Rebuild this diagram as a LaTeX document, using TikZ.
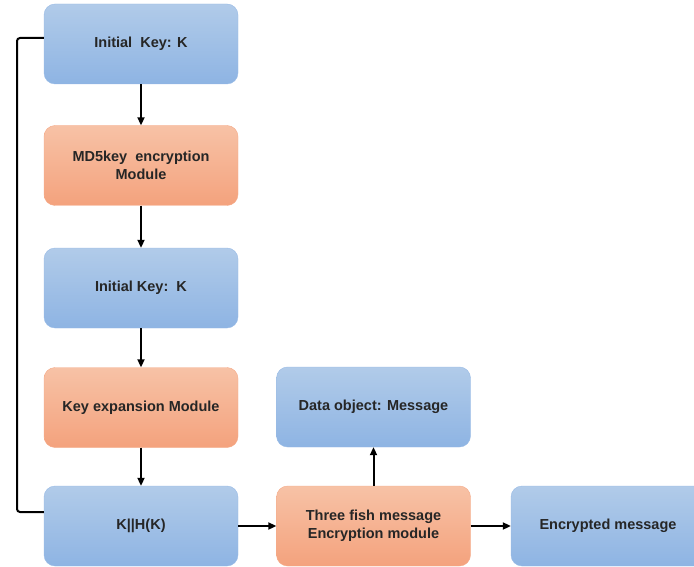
\documentclass[tikz,border=0pt]{standalone}
\usepackage{fontspec}
\setmainfont{Liberation Sans}
\usetikzlibrary{arrows.meta}
\definecolor{bluetop}{HTML}{B1CBE9}
\definecolor{bluebot}{HTML}{8EB4E3}
\definecolor{orgtop}{HTML}{F7C2A6}
\definecolor{orgbot}{HTML}{F4A27D}
\tikzset{
  box/.style={rounded corners=11pt, minimum width=194pt, minimum height=80pt,
    align=center, font=\bfseries\fontsize{14.5}{18}\selectfont, text=black!85, inner sep=0pt},
  bluebox/.style={box, top color=bluetop, bottom color=bluebot, draw=bluebot!90!white, line width=0.4pt},
  orangebox/.style={box, top color=orgtop, bottom color=orgbot, draw=orgbot!90!white, line width=0.4pt},
  link/.style={line width=2pt, -{Triangle[length=8pt,width=7pt]}},
}
\begin{document}
\begin{tikzpicture}[x=1pt,y=-1pt]
  \useasboundingbox (0,0) rectangle (694,567);
  \begin{scope}
  \clip (0,0) rectangle (694,567);
  % left column
  \node[bluebox]   (k1)   at (141,44)    {Initial\ \ Key: K};
  \node[orangebox] (md5)  at (141,165.5) {MD5key\ \ encryption\\Module};
  \node[bluebox]   (k2)   at (141,288)   {Initial Key:\ \ K};
  \node[orangebox] (kexp) at (141,407.5) {Key expansion Module};
  \node[bluebox]   (khk)  at (141,526)   {K||H(K)};
  % bottom row
  \node[orangebox] (tf)   at (373.5,526) {Three fish message\\Encryption module};
  \node[bluebox]   (data) at (373.5,407) {Data object: Message};
  \node[bluebox]   (enc)  at (608,526)   {Encrypted message};
  \end{scope}
  % vertical chain
  \draw[link] (k1) -- (md5);
  \draw[link] (md5) -- (k2);
  \draw[link] (k2) -- (kexp);
  \draw[link] (kexp) -- (khk);
  % horizontal chain
  \draw[link] (khk) -- (tf);
  \draw[link] (tf) -- (data);
  \draw[link] (tf.east) -- (enc.west);
  % feedback loop on the left
  \coordinate (ltop) at (17,38);
  \coordinate (lbot) at (17,512);
  \draw[line width=2pt, rounded corners=3pt] (k1.west |- 0,38) -- (ltop) -- (lbot) -- (khk.west |- 0,512);
\end{tikzpicture}
\end{document}
